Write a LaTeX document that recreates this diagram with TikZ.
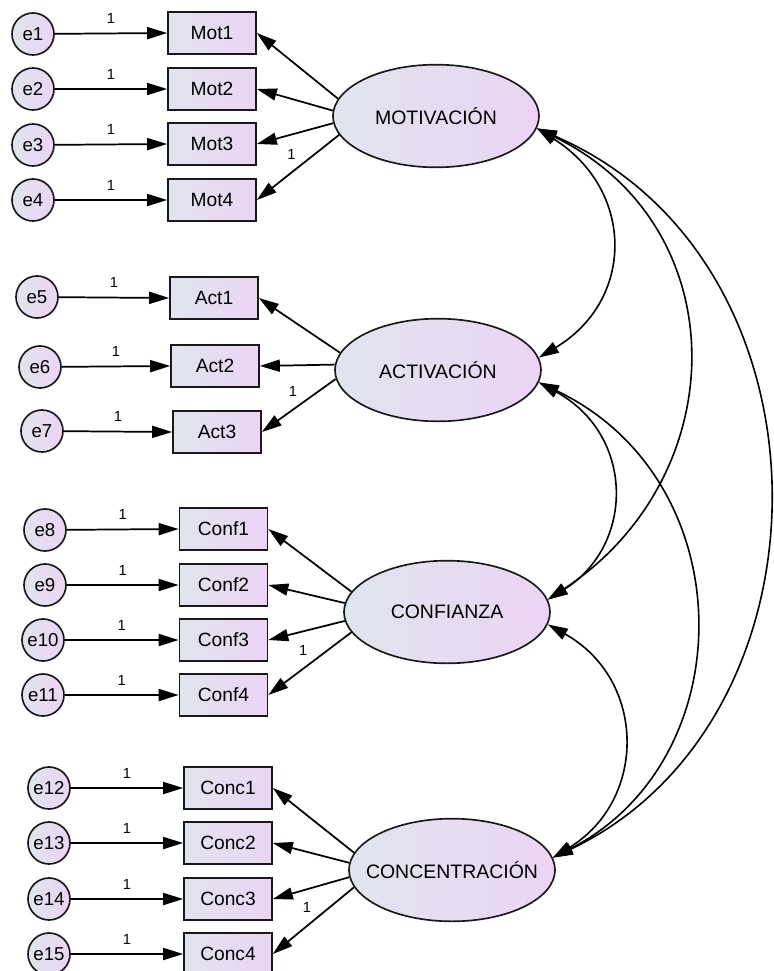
\documentclass[tikz,border=0pt]{standalone}
\usepackage{fontspec}
\setmainfont{Liberation Sans}
\usetikzlibrary{shapes.geometric,arrows.meta}
\definecolor{shL}{RGB}{224,229,238}
\definecolor{shR}{RGB}{236,212,245}
\newcommand{\latlabel}[1]{\makebox[0pt][c]{#1}}
\tikzset{
  obs/.style={draw=black!90, line width=1.25pt, rectangle, minimum width=66pt, minimum height=31.5pt, inner sep=0pt, left color=shL, right color=shR, font=\fontsize{14.4}{17}\selectfont},
  err/.style={draw=black!90, line width=1.25pt, circle, minimum size=31.5pt, inner sep=0pt, left color=shL, right color=shR, font=\fontsize{14}{16}\selectfont},
  lat/.style={draw=black!90, line width=1.25pt, ellipse, minimum width=154.5pt, minimum height=77pt, inner sep=0pt, left color=shL, right color=shR, font=\fontsize{14.6}{17}\selectfont},
  arr/.style={line width=1.3pt, -{Triangle[length=15pt,width=9pt]}},
  cov/.style={line width=1.2pt, {Triangle[length=15pt,width=9pt]}-{Triangle[length=15pt,width=9pt]}},
  one/.style={font=\fontsize{11}{13}\selectfont, inner sep=0pt, midway, yshift=11pt},
  oneL/.style={font=\fontsize{11}{13}\selectfont, inner sep=0pt, pos=0.58, yshift=14pt}
}
\begin{document}
\begin{tikzpicture}[x=0.75pt,y=-0.75pt]
\useasboundingbox (0,0) rectangle (774,971);
% latent
\node[lat] (mot) at (436,116) {\latlabel{MOTIVACIÓN}};
\node[lat] (act) at (438,370) {\latlabel{ACTIVACIÓN}};
\node[lat] (conf) at (447,612) {\latlabel{CONFIANZA}};
\node[lat] (conc) at (452,870) {\latlabel{CONCENTRACIÓN}};
% observed
\node[obs] (m1) at (212,33) {Mot1};
\node[obs] (m2) at (212,89) {Mot2};
\node[obs] (m3) at (212,144) {Mot3};
\node[obs] (m4) at (212,200) {Mot4};
\node[obs] (a1) at (214,298) {Act1};
\node[obs] (a2) at (215,366) {Act2};
\node[obs] (a3) at (217,432) {Act3};
\node[obs] (f1) at (223.5,529) {Conf1};
\node[obs] (f2) at (223.5,585) {Conf2};
\node[obs] (f3) at (223.5,640) {Conf3};
\node[obs] (f4) at (223.5,695) {Conf4};
\node[obs] (c1) at (228,788) {Conc1};
\node[obs] (c2) at (228,843) {Conc2};
\node[obs] (c3) at (228,899) {Conc3};
\node[obs] (c4) at (228,954) {Conc4};
% errors
\node[err] (e1) at (33,34) {e1};
\node[err] (e2) at (33,89) {e2};
\node[err] (e3) at (33,145) {e3};
\node[err] (e4) at (33,200) {e4};
\node[err] (e5) at (37,297) {e5};
\node[err] (e6) at (40,367) {e6};
\node[err] (e7) at (42,431) {e7};
\node[err] (e8) at (45,530) {e8};
\node[err] (e9) at (45,585) {e9};
\node[err] (e10) at (43,640) {e10};
\node[err] (e11) at (43,695) {e11};
\node[err] (e12) at (49,788) {e12};
\node[err] (e13) at (49,843) {e13};
\node[err] (e14) at (49,899) {e14};
\node[err] (e15) at (49,954) {e15};
% error arrows
\foreach \e/\o in {e1/m1,e2/m2,e3/m3,e4/m4,e5/a1,e6/a2,e7/a3,e8/f1,e9/f2,e10/f3,e11/f4,e12/c1,e13/c2,e14/c3,e15/c4}
  \draw[arr] (\e) -- node[one]{1} (\o.west);
% loadings
\draw[arr] (mot.170) -- (m1.east);
\draw[arr] (mot.177) -- (m2.east);
\draw[arr] (mot.184) -- (m3.east);
\draw[arr] (mot.191) -- node[oneL]{1} (m4.east);
\draw[arr] (act.170) -- (a1.east);
\draw[arr] (act.177) -- (a2.east);
\draw[arr] (act.185) -- node[oneL]{1} (a3.east);
\draw[arr] (conf.168) -- (f1.east);
\draw[arr] (conf.175) -- (f2.east);
\draw[arr] (conf.185) -- (f3.east);
\draw[arr] (conf.192) -- node[oneL]{1} (f4.east);
\draw[arr] (conc.170) -- (c1.east);
\draw[arr] (conc.176) -- (c2.east);
\draw[arr] (conc.184) -- (c3.east);
\draw[arr] (conc.190) -- node[oneL]{1} (c4.east);
% covariances
\draw[cov] (mot.-7) .. controls (635,190) and (635,300) .. (act.7);
\draw[cov] (mot.-7) .. controls (736,225) and (736,475) .. (conf.7);
\draw[cov] (mot.-7) .. controls (842,260) and (842,720) .. (conc.7);
\draw[cov] (act.-7) .. controls (635,435) and (635,545) .. (conf.7);
\draw[cov] (act.-7) .. controls (744,480) and (744,760) .. (conc.7);
\draw[cov] (conf.-7) .. controls (647,680) and (647,800) .. (conc.7);
\end{tikzpicture}
\end{document}
